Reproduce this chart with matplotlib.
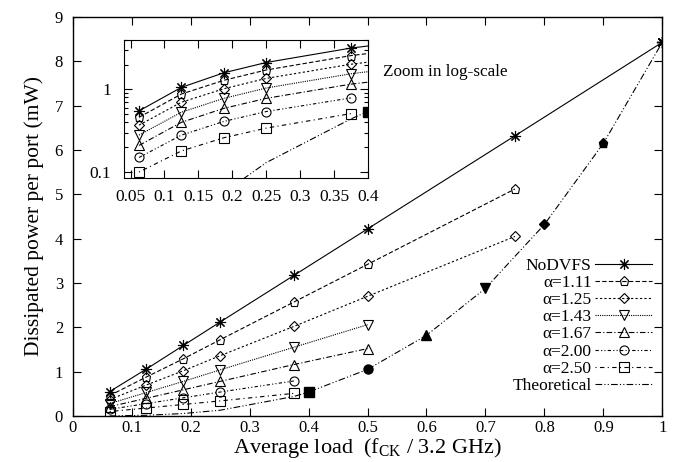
import numpy as np
from matplotlib import pyplot as plt
from matplotlib.ticker import FixedLocator, NullFormatter

plt.rcParams['font.family'] = ['Liberation Serif', 'DejaVu Serif']
plt.rcParams['mathtext.fontset'] = 'custom'
plt.rcParams['mathtext.rm'] = 'Liberation Serif'
plt.rcParams['mathtext.it'] = 'Liberation Serif:italic'

# Average load (fraction of 3.2 GHz) and dissipated power (mW)
load = [0.0625, 0.125, 0.1875, 0.25, 0.375, 0.5, 0.75, 1.0]

labels = ['NoDVFS', 'α=1.11', 'α=1.25', 'α=1.43', 'α=1.67', 'α=2.00', 'α=2.50']
power = [
    [0.55, 1.06, 1.59, 2.12, 3.17, 4.22, 6.32, 8.43],
    [0.46, 0.88, 1.29, 1.72, 2.57, 3.42, 5.12],
    [0.37, 0.70, 1.02, 1.36, 2.02, 2.70, 4.05],
    [0.28, 0.53, 0.78, 1.04, 1.55, 2.06],
    [0.21, 0.40, 0.59, 0.78, 1.16, 1.52],
    [0.15, 0.28, 0.41, 0.54, 0.79],
    [0.10, 0.18, 0.26, 0.34, 0.51],
]

theo_load = [0.0625, 0.125, 0.1875, 0.25, 0.375, 0.4, 0.5, 0.6, 0.7, 0.8, 0.9, 1.0]
theo_power = [0.002, 0.016, 0.056, 0.13, 0.44, 0.54, 1.05, 1.82, 2.88, 4.32, 6.15, 8.43]

# end points of each alpha on the theoretical curve (load = 1/alpha)
end_load = [1.0, 0.9, 0.8, 0.7, 0.6, 0.5, 0.4]
end_power = [8.43, 6.15, 4.32, 2.88, 1.82, 1.05, 0.54]

markers = [(8, 2, 0), 'p', 'D', 'v', '^', 'o', 's']
msizes = [8, 6.5, 5, 6.5, 6.5, 6.5, 6.5]
dashes = [
    (None, None),
    (4, 2),
    (2, 2),
    (1, 1),
    (5, 2, 1, 2),
    (3, 2, 1, 2, 1, 2),
    (1, 3, 4, 3),
]
theo_dash = (6, 2, 1, 2, 1, 2)
lw = 0.8

fig = plt.figure(figsize=(6.8, 4.62), dpi=100)
ax = fig.add_axes([0.107, 0.0996, 0.867, 0.8636])


def draw(axis, legend=True):
    for i, name in enumerate(labels):
        x = load[:len(power[i])]
        line, = axis.plot(x, power[i], color='black', lw=lw, marker=markers[i],
                          ms=msizes[i], mfc='none', mec='black', mew=0.8,
                          label=name if legend else None)
        if dashes[i][0] is not None:
            line.set_dashes(dashes[i])
    t, = axis.plot(theo_load, theo_power, color='black', lw=lw,
                   label='Theoretical' if legend else None)
    t.set_dashes(theo_dash)
    for i in range(len(end_load)):
        axis.plot(end_load[i], end_power[i], linestyle='none', marker=markers[i],
                  ms=msizes[i], color='black')


draw(ax)
ax.set_xlim(0, 1)
ax.set_ylim(0, 9)
ax.set_xticks(np.arange(0, 1.01, 0.1))
ax.set_xticklabels(['0', '0.1', '0.2', '0.3', '0.4', '0.5', '0.6', '0.7', '0.8', '0.9', '1'])
ax.set_yticks(range(10))
ax.tick_params(direction='in', top=True, right=True, length=6, width=0.8, labelsize=12)
ax.tick_params(axis='x', pad=3)
ax.tick_params(axis='y', pad=7)
ax.set_xlabel(r'Average load  (f$_{\mathrm{CK}}$ / 3.2 GHz)', fontsize=16, labelpad=0)
ax.set_ylabel('Dissipated power per port (mW)', fontsize=15.5, labelpad=8)
for s in ax.spines.values():
    s.set_linewidth(1.0)

ax.legend(loc='lower right', bbox_to_anchor=(0.983, 0.055), frameon=False,
          markerfirst=False, fontsize=12.5, handlelength=3.3, handletextpad=0.2,
          labelspacing=0.06, borderpad=0, borderaxespad=0, numpoints=1)

ax.text(0.526, 7.76, 'Zoom in log-scale', fontsize=12.3, va='center', ha='left')

# inset with log y-axis
ins = fig.add_axes([0.182, 0.615, 0.359, 0.299])
draw(ins, legend=False)
ins.set_yscale('log')
ins.set_xlim(0.04, 0.4)
ins.set_ylim(0.085, 4)
ins.set_xticks([0.05, 0.1, 0.15, 0.2, 0.25, 0.3, 0.35, 0.4])
ins.set_xticklabels(['0.05', '0.1', '0.15', '0.2', '0.25', '0.3', '0.35', '0.4'])
ins.yaxis.set_major_locator(FixedLocator([0.1, 1]))
ins.set_yticklabels(['0.1', '1'])
ins.yaxis.set_minor_locator(FixedLocator([0.2, 0.3, 0.4, 0.5, 0.6, 0.7, 0.8, 0.9, 2, 3, 4]))
ins.yaxis.set_minor_formatter(NullFormatter())
ins.tick_params(which='major', direction='in', top=True, right=True, length=6,
                width=0.8, labelsize=12.5)
ins.tick_params(axis='x', which='major', pad=8)
ins.tick_params(axis='y', which='major', pad=9)
ins.tick_params(which='minor', direction='in', right=True, length=3, width=0.8)

fig.savefig('out.png', dpi=100)
